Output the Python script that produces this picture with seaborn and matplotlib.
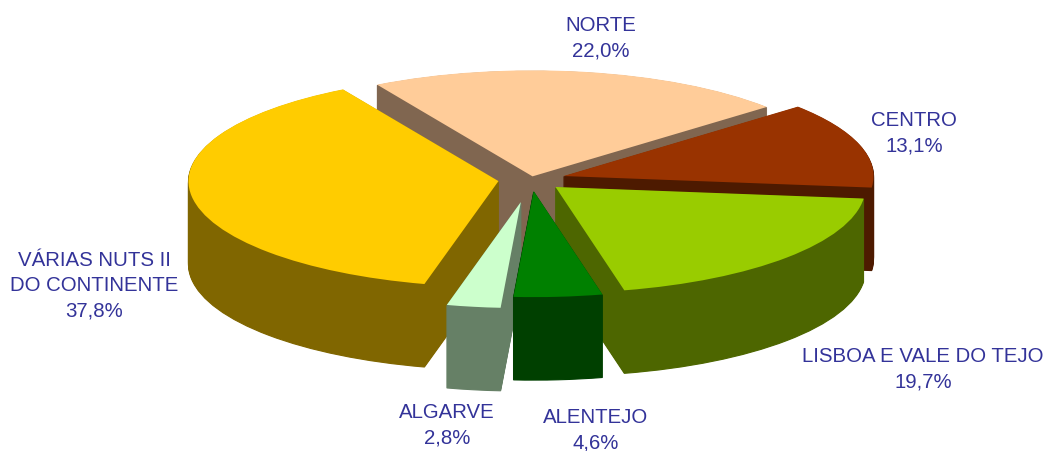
import matplotlib
matplotlib.use("Agg")
import matplotlib.pyplot as plt
import seaborn as sns

regions = ["NORTE", "CENTRO", "LISBOA E VALE DO TEJO", "ALENTEJO", "ALGARVE", "VÁRIAS NUTS II\nDO CONTINENTE"]
shares = [22.0, 13.1, 19.7, 4.6, 2.8, 37.8]
share_labels = ["22,0%", "13,1%", "19,7%", "4,6%", "2,8%", "37,8%"]
top_colors = ["#FFCC99", "#993300", "#99CC00", "#008000", "#CCFFCC", "#FFCC00"]
side_colors = ["#806650", "#4D1A00", "#4D6600", "#004000", "#668066", "#806600"]
explode = [0.03, 0.11, 0.106, 0.11, 0.215, 0.106]
draw_rank = [0, 1, 3, 5, 4, 2]
label_px = [(601, 38), (914, 133), (923, 369), (596, 430), (447, 425), (94, 286)]

W, H = 1046, 452
CX, CY, RX, RY, DEPTH = 531, 180.5, 310, 106, 83

sns.set_theme(style="white")
plt.rcParams["font.family"] = ["Liberation Sans", "DejaVu Sans"]

fig = plt.figure(figsize=(W / 100, H / 100), dpi=100, facecolor="white")
ax = fig.add_axes([0, 0, 1, 1])


def draw_layer(offset_px, colors, is_top):
    wedges, _ = ax.pie(
        shares, explode=explode, colors=sns.color_palette(colors),
        startangle=120.1, counterclock=False,
        center=(0, -offset_px / RY), radius=1,
    )
    for w, rank in zip(wedges, draw_rank):
        w.set_zorder(rank * 2 + (1 if is_top else 0))
        w.set_edgecolor(w.get_facecolor())
        w.set_linewidth(0.0 if is_top else 0.8)


for k in range(DEPTH, 0, -1):
    draw_layer(k, side_colors, False)
draw_layer(0, top_colors, True)

ax.set_aspect("auto")
ax.set_xlim((0 - CX) / RX, (W - CX) / RX)
ax.set_ylim((CY - H) / RY, CY / RY)
ax.axis("off")

for name, pct, (px, py) in zip(regions, share_labels, label_px):
    fig.text(px / W, 1 - py / H, f"{name}\n{pct}", ha="center", va="center",
             color="#333399", fontsize=14.7, linespacing=1.42, multialignment="center")

fig.savefig("out.png", dpi=100, facecolor="white")
